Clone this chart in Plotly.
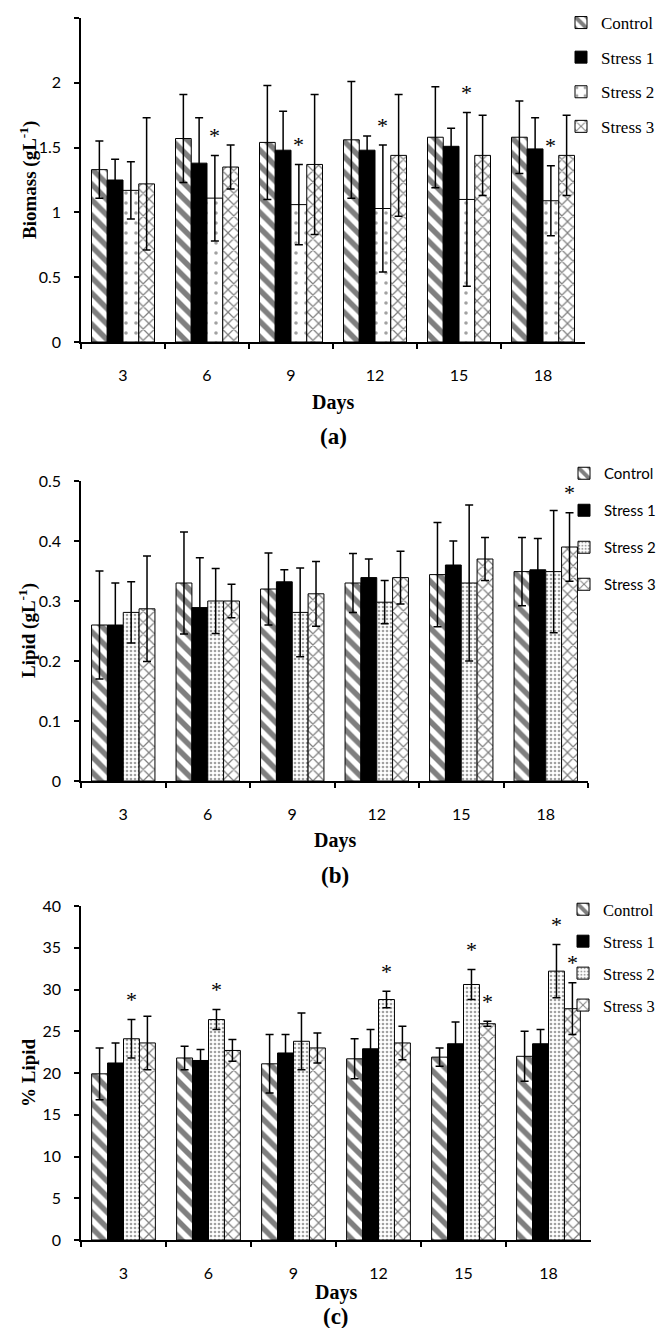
import plotly.graph_objects as go

W, H = 666, 1328

days = ["3", "6", "9", "12", "15", "18"]
series = ["Control", "Stress 1", "Stress 2", "Stress 3"]

# Panel (a) Biomass (g/L)
biomass_control = [1.33, 1.57, 1.54, 1.56, 1.58, 1.58]
biomass_control_err = [0.22, 0.34, 0.44, 0.45, 0.39, 0.28]
biomass_stress1 = [1.25, 1.38, 1.48, 1.48, 1.51, 1.49]
biomass_stress1_err = [0.16, 0.35, 0.30, 0.11, 0.14, 0.24]
biomass_stress2 = [1.17, 1.11, 1.06, 1.03, 1.10, 1.09]
biomass_stress2_err = [0.22, 0.33, 0.31, 0.49, 0.67, 0.27]
biomass_stress3 = [1.22, 1.35, 1.37, 1.44, 1.44, 1.44]
biomass_stress3_err = [0.51, 0.17, 0.54, 0.47, 0.31, 0.31]

# Panel (b) Lipid (g/L)
lipid_control = [0.26, 0.33, 0.32, 0.33, 0.344, 0.349]
lipid_control_err = [0.09, 0.085, 0.06, 0.049, 0.087, 0.057]
lipid_stress1 = [0.26, 0.289, 0.332, 0.339, 0.36, 0.352]
lipid_stress1_err = [0.07, 0.083, 0.02, 0.031, 0.04, 0.052]
lipid_stress2 = [0.281, 0.30, 0.281, 0.298, 0.33, 0.349]
lipid_stress2_err = [0.051, 0.054, 0.074, 0.036, 0.13, 0.102]
lipid_stress3 = [0.287, 0.30, 0.312, 0.339, 0.37, 0.39]
lipid_stress3_err = [0.088, 0.028, 0.054, 0.044, 0.036, 0.057]

# Panel (c) % Lipid
pct_control = [19.9, 21.8, 21.1, 21.7, 21.9, 22.0]
pct_control_err = [3.1, 1.4, 3.5, 2.4, 1.1, 3.0]
pct_stress1 = [21.2, 21.5, 22.4, 22.9, 23.5, 23.5]
pct_stress1_err = [2.4, 1.3, 2.2, 2.3, 2.6, 1.7]
pct_stress2 = [24.1, 26.4, 23.8, 28.8, 30.6, 32.2]
pct_stress2_err = [2.3, 1.2, 3.4, 1.0, 1.8, 3.2]
pct_stress3 = [23.6, 22.7, 23.0, 23.6, 25.9, 27.7]
pct_stress3_err = [3.2, 1.3, 1.8, 2.0, 0.3, 3.1]

# significance markers: series index -> day indices
biomass_sig = {2: [1, 2, 3, 4, 5]}
lipid_sig = {3: [5]}
pct_sig = {2: [0, 1, 3, 4, 5], 3: [4, 5]}

panels = [
    dict(vals=[biomass_control, biomass_stress1, biomass_stress2, biomass_stress3],
         errs=[biomass_control_err, biomass_stress1_err, biomass_stress2_err, biomass_stress3_err],
         sig=biomass_sig, yrange=[0, 2.5], dtick=0.5, ytitle="<b>Biomass (gL<sup>-1</sup>)</b>",
         label="<b>(a)</b>", px=(73, 577), py=(10, 334), days_y=394, lab_y=428,
         legfont="Liberation Serif", legsize=17, leggap=9.5, leg=(553, -3),
         dots=dict(size=10, solidity=0.1)),
    dict(vals=[lipid_control, lipid_stress1, lipid_stress2, lipid_stress3],
         errs=[lipid_control_err, lipid_stress1_err, lipid_stress2_err, lipid_stress3_err],
         sig=lipid_sig, yrange=[0, 0.5], dtick=0.1, ytitle="<b>Lipid (gL<sup>-1</sup>)</b>",
         label="<b>(b)</b>", px=(73, 580), py=(473, 773), days_y=832, lab_y=867,
         legfont="Lato", legsize=15, leggap=14.5, leg=(556, 449),
         dots=dict(size=4, solidity=0.35)),
    dict(vals=[pct_control, pct_stress1, pct_stress2, pct_stress3],
         errs=[pct_control_err, pct_stress1_err, pct_stress2_err, pct_stress3_err],
         sig=pct_sig, yrange=[0, 40], dtick=5, ytitle="<b>% Lipid</b>",
         label="<b>(c)</b>", px=(73, 583), py=(898, 1232), days_y=1284, lab_y=1308,
         legfont="Liberation Serif", legsize=16.5, leggap=7.5, leg=(555, 884),
         dots=dict(size=4, solidity=0.35)),
]

BARGAP = 0.25


def fx(x):
    return x / W


def fy(y):
    return 1 - y / H


fig = go.Figure()
annotations = []
layout = {}

for p, pan in enumerate(panels):
    sfx = "" if p == 0 else str(p + 1)
    xa, ya = "x" + sfx, "y" + sfx
    legname = "legend" if p == 0 else "legend" + str(p + 1)
    patterns = [
        dict(shape="\\", size=11, solidity=0.5, fgcolor="black", bgcolor="white"),
        dict(shape="", fgcolor="black", bgcolor="black"),
        dict(shape=".", size=pan["dots"]["size"], solidity=pan["dots"]["solidity"],
             fgcolor="#444", bgcolor="white"),
        dict(shape="x", size=8, solidity=0.28, fgcolor="black", bgcolor="white"),
    ]
    for s, name in enumerate(series):
        fig.add_trace(go.Bar(
            x=days, y=pan["vals"][s], name=name, xaxis=xa, yaxis=ya,
            legend=legname, legendgroup=name,
            marker=dict(color="black" if s == 1 else "white",
                        line=dict(color="black", width=1),
                        pattern=patterns[s]),
            error_y=dict(type="data", array=pan["errs"][s], color="black",
                         thickness=1.5, width=4),
        ))
    x0, x1 = pan["px"]
    y0, y1 = pan["py"]
    layout["xaxis" + sfx] = dict(
        domain=[fx(x0), fx(x1)], anchor=ya, type="category", range=[-0.5, 5.5],
        showline=True, linecolor="black", linewidth=1.5, ticks="outside",
        tickson="boundaries", ticklen=5, tickcolor="black", tickwidth=1.5,
        tickfont=dict(family="Lato", size=16, color="black"),
        ticklabelstandoff=18, showgrid=False, zeroline=False, fixedrange=True)
    layout["yaxis" + sfx] = dict(
        domain=[fy(y1), fy(y0)], anchor=xa, range=pan["yrange"], dtick=pan["dtick"],
        showline=True, linecolor="black", linewidth=1.5, ticks="outside",
        ticklen=5, tickcolor="black", tickwidth=1.5,
        tickfont=dict(family="Lato", size=16, color="black"),
        ticklabelstandoff=10, showgrid=False, zeroline=False, fixedrange=True)
    lx, ly = pan["leg"]
    layout[legname] = dict(
        x=fx(lx), y=fy(ly), xanchor="left", yanchor="top",
        font=dict(family=pan["legfont"], size=pan["legsize"], color="black"),
        bgcolor="rgba(0,0,0,0)", tracegroupgap=pan["leggap"], itemwidth=30)
    cx = (x0 + x1) / 2
    annotations += [
        dict(text=pan["ytitle"], x=fx(20), y=fy((y0 + y1) / 2), xref="paper", yref="paper",
             xanchor="center", yanchor="middle", textangle=-90, showarrow=False,
             font=dict(family="Liberation Serif", size=19, color="black")),
        dict(text="<b>Days</b>", x=fx(cx), y=fy(pan["days_y"]), xref="paper", yref="paper",
             xanchor="center", yanchor="middle", showarrow=False,
             font=dict(family="Liberation Serif", size=20, color="black")),
        dict(text=pan["label"], x=fx(cx), y=fy(pan["lab_y"]), xref="paper", yref="paper",
             xanchor="center", yanchor="middle", showarrow=False,
             font=dict(family="Liberation Serif", size=23, color="black")),
    ]
    bw = (1 - BARGAP) / 4
    for s, idxs in pan["sig"].items():
        for i in idxs:
            top = pan["vals"][s][i] + pan["errs"][s][i]
            annotations.append(dict(
                text="*", x=i - (1 - BARGAP) / 2 + bw * (s + 0.5), y=top,
                xref=xa, yref=ya, showarrow=False, xanchor="center",
                yanchor="middle", yshift=20,
                font=dict(family="Liberation Serif", size=22, color="black")))

fig.update_layout(
    width=W, height=H, margin=dict(l=0, r=0, t=0, b=0, autoexpand=False),
    paper_bgcolor="white", plot_bgcolor="white",
    barmode="group", bargap=BARGAP, bargroupgap=0,
    showlegend=True, annotations=annotations, **layout)

fig.write_html("out.html")
